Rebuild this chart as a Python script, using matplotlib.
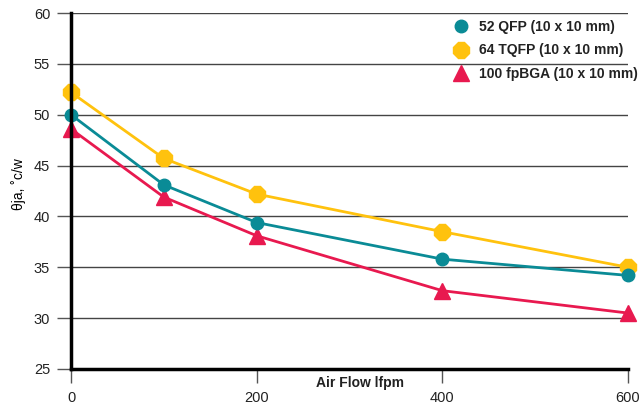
import matplotlib
matplotlib.use("Agg")
import matplotlib.pyplot as plt
from matplotlib.lines import Line2D

plt.rcParams['font.family'] = ['Liberation Sans', 'DejaVu Sans']

airflow = [0, 100, 200, 400, 600]
qfp52 = [50.0, 43.1, 39.4, 35.8, 34.2]
tqfp64 = [52.2, 45.7, 42.2, 38.5, 35.0]
fpbga100 = [48.6, 41.9, 38.1, 32.7, 30.5]
labels = ["52 QFP (10 x 10 mm)", "64 TQFP (10 x 10 mm)", "100 fpBGA (10 x 10 mm)"]
xticks = [0, 200, 400, 600]
yticks = [25, 30, 35, 40, 45, 50, 55, 60]

teal = "#0A8B96"
yellow = "#FFC20E"
red = "#E8194F"

fig = plt.figure(figsize=(6.43, 4.04), dpi=100)
ax = fig.add_axes([71/643, 1-369/404, (628-71)/643, (369-13)/404])

ax.plot(airflow, qfp52, color=teal, lw=2.0, marker='o', ms=9, label=labels[0], zorder=5)
ax.plot(airflow, tqfp64, color=yellow, lw=2.0, marker='8', ms=12, label=labels[1], zorder=4)
ax.plot(airflow, fpbga100, color=red, lw=2.0, marker='^', ms=11, label=labels[2], zorder=3)

ax.set_xlim(0, 600)
ax.set_ylim(25, 60)
ax.set_xticks(xticks)
ax.set_yticks(yticks)
ax.yaxis.grid(True, color='#444444', lw=1.0)
ax.set_axisbelow(True)
for s in ['top', 'right']:
    ax.spines[s].set_visible(False)
ax.spines['left'].set_linewidth(2.5)
ax.spines['bottom'].set_linewidth(2.5)
ax.spines['left'].set_zorder(6)
ax.tick_params(axis='y', length=10, width=1, color='#555555', pad=5, labelsize=10.5,
               labelcolor='#222222')
ax.tick_params(axis='x', length=10, width=1, color='#555555', pad=6, labelsize=10.5,
               labelcolor='#222222')
for line in ax.lines:
    line.set_clip_on(False)

fig.text(19/643, 1-184/404, "θja, ˚c/w", rotation=90, ha='center', va='center', fontsize=10)
fig.text(360/643, 1-383/404, "Air Flow lfpm", ha='center', va='center', fontsize=10,
         fontweight='bold', color='#222222')

handles = [Line2D([], [], ls='none', marker='o', ms=9, color=teal),
           Line2D([], [], ls='none', marker='8', ms=12, color=yellow),
           Line2D([], [], ls='none', marker='^', ms=12, color=red)]
leg = ax.legend(handles, labels, loc='upper left', frameon=False,
                prop={'size': 10, 'weight': 'bold'},
                handletextpad=0.7, handlelength=1.2, labelspacing=0.68,
                bbox_to_anchor=(453/643, 1-20/404), bbox_transform=fig.transFigure,
                borderaxespad=0, borderpad=0)
for t in leg.get_texts():
    t.set_color('#222222')
fig.savefig("out.png", dpi=100)
